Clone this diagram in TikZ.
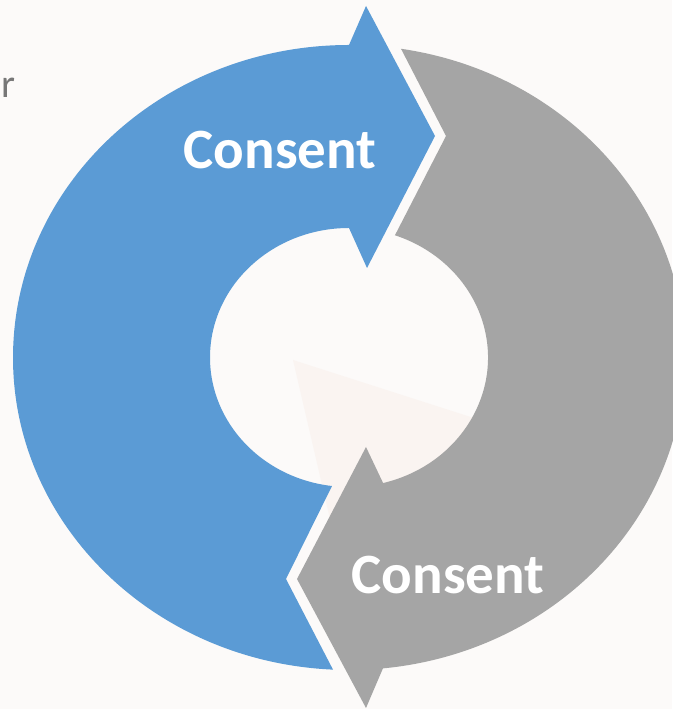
\documentclass[tikz,border=0pt]{standalone}
\usepackage{fontspec}
\setmainfont{Carlito}
\usetikzlibrary{calc}

\definecolor{cycleblue}{HTML}{5B9BD5}
\definecolor{cyclegray}{HTML}{A5A5A5}
\definecolor{paper}{HTML}{FCFAF9}
\definecolor{paperwarm}{HTML}{FAF4F1}
\definecolor{captiongray}{HTML}{777777}

\tikzset{
  bluearrow/.style={fill=cycleblue},
  grayarrow/.style={fill=cyclegray},
  arrowlabel/.style={text=white, font=\bfseries\fontsize{57}{60}\selectfont, inner sep=0pt},
}

\begin{document}
\begin{tikzpicture}[x=1pt, y=1pt]
  % page background
  \fill[paper] (0,0) rectangle (672,709);
  \useasboundingbox (0,0) rectangle (672,709);
  % faint warm patch seen through the ring
  \fill[paperwarm] (293,349) -- (480,289) -- (480,190) -- (330,190) -- cycle;

  % centre of the ring
  \coordinate (C) at (349,351.5);

  % blue arc: tail at the bottom, head at the top pointing right
  \coordinate (bOutTail) at ($(C)+(267.27:336pt and 312.5pt)$);
  \coordinate (bInHead)  at ($(C)+(90:139pt and 129.5pt)$);
  \coordinate (bBarbUp)  at (366,703);
  \coordinate (bTip)     at (435,573);
  \coordinate (bBarbLow) at (367,441);
  \coordinate (bNotch)   at (286,130);
  \fill[bluearrow] (bOutTail)
      arc[start angle=267.27, end angle=90, x radius=336pt, y radius=312.5pt]
      -- (bBarbUp) -- (bTip) -- (bBarbLow) -- (bInHead)
      arc[start angle=90, end angle=262.97, x radius=139pt, y radius=129.5pt]
      -- (bNotch) -- cycle;

  % gray arc: tail at the top, head at the bottom pointing left
  \coordinate (gOutTail) at ($(C)+(81.1:336pt and 312.5pt)$);
  \coordinate (gInHead)  at ($(C)+(-75.8:139pt and 129.5pt)$);
  \coordinate (gBarbLow) at (366,1);
  \coordinate (gTip)     at (297,130);
  \coordinate (gBarbUp)  at (366,262);
  \coordinate (gNotch)   at (446,573);
  \fill[grayarrow] (gOutTail)
      arc[start angle=81.1, end angle=-84.2, x radius=336pt, y radius=312.5pt]
      -- (gBarbLow) -- (gTip) -- (gBarbUp) -- (gInHead)
      arc[start angle=-75.8, end angle=70.7, x radius=139pt, y radius=129.5pt]
      -- (gNotch) -- cycle;

  % labels
  \node[arrowlabel] (blueLabel) at (280,559) {Consent};
  \node[arrowlabel] (grayLabel) at (448,134) {Consent};

  % clipped word at the left edge
  \node[anchor=base west, inner sep=0pt, text=captiongray,
        font=\fontsize{40}{44}\selectfont] (edgeWord) at (1,611) {r};
\end{tikzpicture}
\end{document}
